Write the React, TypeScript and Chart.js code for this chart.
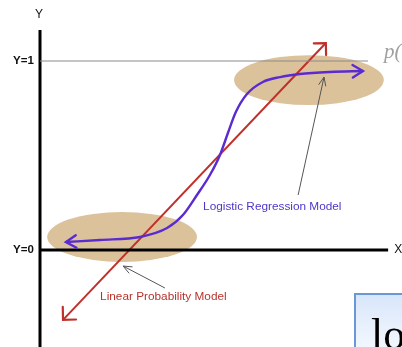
import React, { useEffect, useRef } from "react";
import { Chart, registerables } from "chart.js";

Chart.register(...registerables);

// Logistic (S-shaped) curve
const logitX = [0.72, 1.67, 2.78, 3.53, 3.97, 4.36, 4.72, 5.0, 5.22, 5.44, 5.75, 6.19, 6.67, 7.22, 8.06, 8.97];
const logitY = [0.042, 0.053, 0.069, 0.116, 0.185, 0.291, 0.397, 0.503, 0.619, 0.73, 0.825, 0.889, 0.915, 0.931, 0.942, 0.947];

// Linear probability model line endpoints
const linearX = [0.64, 7.94];
const linearY = [-0.37, 1.095];

// Axes and reference line
const yAxisX = [0, 0];
const yAxisY = [1.164, -0.6];
const xAxisX = [0, 9.67];
const xAxisY = [0, 0];
const oneLineX = [0, 9.11];
const oneLineY = [1, 1];

// Pointer lines (tail -> head)
const logitPointerX = [7.17, 7.89];
const logitPointerY = [0.291, 0.915];
const linearPointerX = [3.47, 2.31];
const linearPointerY = [-0.201, -0.085];

// Highlight ellipses: centre x, centre y, radius x, radius y
const ellipseCX = [7.47, 2.28];
const ellipseCY = [0.899, 0.069];
const ellipseRX = [2.08, 2.08];
const ellipseRY = [0.132, 0.132];

// Tick-like labels
const axisLabels = ["Y", "Y=1", "Y=0", "X"];
const axisLabelX = [-0.03, -0.17, -0.17, 9.95];
const axisLabelY = [1.245, 1.0, 0.0, 0.0];

const modelLabels = ["Logistic Regression Model", "Linear Probability Model"];
const modelLabelX = [4.53, 1.67];
const modelLabelY = [0.228, -0.249];

const X_MIN = -40 / 36;
const X_MAX = 362 / 36;
const Y_MIN = -97 / 189;
const Y_MAX = 250 / 189;

const pts = (xs: number[], ys: number[]) => xs.map((x, i) => ({ x, y: ys[i] }));

function arrowHead(ctx: CanvasRenderingContext2D, tx: number, ty: number, fx: number, fy: number, len: number, half: number, color: string, width: number) {
  const a = Math.atan2(ty - fy, tx - fx);
  ctx.save();
  ctx.strokeStyle = color;
  ctx.lineWidth = width;
  ctx.lineCap = "round";
  ctx.beginPath();
  ctx.moveTo(tx + len * Math.cos(a + Math.PI - half), ty + len * Math.sin(a + Math.PI - half));
  ctx.lineTo(tx, ty);
  ctx.lineTo(tx + len * Math.cos(a + Math.PI + half), ty + len * Math.sin(a + Math.PI + half));
  ctx.stroke();
  ctx.restore();
}

const decorPlugin = {
  id: "decor",
  beforeDatasetsDraw(chart: any) {
    const { ctx, scales } = chart;
    const sx = scales.x, sy = scales.y;
    ctx.save();
    ctx.fillStyle = "#dcc29a";
    for (let i = 0; i < ellipseCX.length; i++) {
      const cx = sx.getPixelForValue(ellipseCX[i]);
      const cy = sy.getPixelForValue(ellipseCY[i]);
      const rx = Math.abs(sx.getPixelForValue(ellipseCX[i] + ellipseRX[i]) - cx);
      const ry = Math.abs(sy.getPixelForValue(ellipseCY[i] + ellipseRY[i]) - cy);
      ctx.beginPath();
      ctx.ellipse(cx, cy, rx, ry, 0, 0, Math.PI * 2);
      ctx.fill();
    }
    ctx.restore();
  },
  afterDatasetsDraw(chart: any) {
    const { ctx, scales } = chart;
    const sx = scales.x, sy = scales.y;
    const P = (x: number, y: number) => [sx.getPixelForValue(x), sy.getPixelForValue(y)];

    // arrowheads on red line
    const [r0x, r0y] = P(linearX[0], linearY[0]);
    const [r1x, r1y] = P(linearX[1], linearY[1]);
    arrowHead(ctx, r1x, r1y, r0x, r0y, 12, 0.78, "#c0302a", 2.2);
    arrowHead(ctx, r0x, r0y, r1x, r1y, 13, 0.78, "#c0302a", 2.2);
    // arrowheads on purple curve
    const n = logitX.length;
    const [l0x, l0y] = P(logitX[0], logitY[0]);
    const [l1x, l1y] = P(logitX[1], logitY[1]);
    const [lnx, lny] = P(logitX[n - 1], logitY[n - 1]);
    const [lmx, lmy] = P(logitX[n - 2], logitY[n - 2]);
    arrowHead(ctx, l0x, l0y, l1x, l1y, 12, 0.55, "#5a2bd0", 2.4);
    arrowHead(ctx, lnx, lny, lmx, lmy, 12, 0.55, "#5a2bd0", 2.4);
    // pointer arrowheads
    const [a0x, a0y] = P(logitPointerX[0], logitPointerY[0]);
    const [a1x, a1y] = P(logitPointerX[1], logitPointerY[1]);
    arrowHead(ctx, a1x, a1y, a0x, a0y, 9, 0.4, "#555", 1);
    const [b0x, b0y] = P(linearPointerX[0], linearPointerY[0]);
    const [b1x, b1y] = P(linearPointerX[1], linearPointerY[1]);
    arrowHead(ctx, b1x, b1y, b0x, b0y, 9, 0.4, "#555", 1);

    ctx.save();
    // axis labels
    ctx.fillStyle = "#111";
    ctx.textBaseline = "middle";
    for (let i = 0; i < axisLabels.length; i++) {
      const [x, y] = P(axisLabelX[i], axisLabelY[i]);
      ctx.textAlign = i === 0 || i === 3 ? "center" : "right";
      ctx.font = i === 0 || i === 3 ? "12px 'Liberation Sans', Arial, sans-serif" : "bold 11.5px 'Liberation Sans', Arial, sans-serif";
      ctx.fillText(axisLabels[i], x, y);
    }
    // model labels
    ctx.textAlign = "left";
    ctx.font = "11.8px 'Liberation Sans', Arial, sans-serif";
    const labelColors = ["#4f36c8", "#b8322b"];
    for (let i = 0; i < modelLabels.length; i++) {
      const [x, y] = P(modelLabelX[i], modelLabelY[i]);
      ctx.fillStyle = labelColors[i];
      ctx.fillText(modelLabels[i], x, y);
    }
    // partial "p(" text
    ctx.fillStyle = "#a0a0a0";
    ctx.font = "italic 21px 'Liberation Serif', 'DejaVu Serif', serif";
    ctx.textBaseline = "alphabetic";
    ctx.fillText("p(", 384, 58);
    // partial "lo" box
    const g = ctx.createLinearGradient(0, 294, 0, 347);
    g.addColorStop(0, "#d8e6fa");
    g.addColorStop(1, "#f2f7fe");
    ctx.fillStyle = g;
    ctx.fillRect(355, 294, 60, 70);
    ctx.strokeStyle = "#6a98d6";
    ctx.lineWidth = 2;
    ctx.strokeRect(355, 294, 60, 70);
    ctx.fillStyle = "#000";
    ctx.font = "44px 'Liberation Serif', 'DejaVu Serif', serif";
    ctx.fillText("lo", 371, 349);
    ctx.restore();
  },
};

export default function App() {
  const ref = useRef<HTMLCanvasElement>(null);
  useEffect(() => {
    if (!ref.current) return;
    const line = (data: any, color: string, width: number, extra: any = {}) => ({
      data,
      showLine: true,
      borderColor: color,
      borderWidth: width,
      pointRadius: 0,
      fill: false,
      ...extra,
    });
    const chart = new Chart(ref.current, {
      type: "scatter",
      data: {
        datasets: [
          line(pts(oneLineX, oneLineY), "#8a8a8a", 1),
          line(pts(xAxisX, xAxisY), "#000", 3),
          line(pts(yAxisX, yAxisY), "#000", 3),
          line(pts(logitPointerX, logitPointerY), "#555", 1),
          line(pts(linearPointerX, linearPointerY), "#555", 1),
          line(pts(logitX, logitY), "#5a2bd0", 2.4, { cubicInterpolationMode: "monotone" }),
          line(pts(linearX, linearY), "#c0302a", 2),
        ],
      },
      options: {
        animation: false,
        responsive: false,
        devicePixelRatio: 1,
        layout: { padding: 0 },
        plugins: { legend: { display: false }, tooltip: { enabled: false } },
        scales: {
          x: { type: "linear", display: false, min: X_MIN, max: X_MAX },
          y: { type: "linear", display: false, min: Y_MIN, max: Y_MAX },
        },
      },
      plugins: [decorPlugin],
    });
    return () => chart.destroy();
  }, []);
  return (
    <div style={{ position: "absolute", left: 0, top: 0, width: 402, height: 347, background: "#fff" }}>
      <canvas ref={ref} width={402} height={347} />
    </div>
  );
}
